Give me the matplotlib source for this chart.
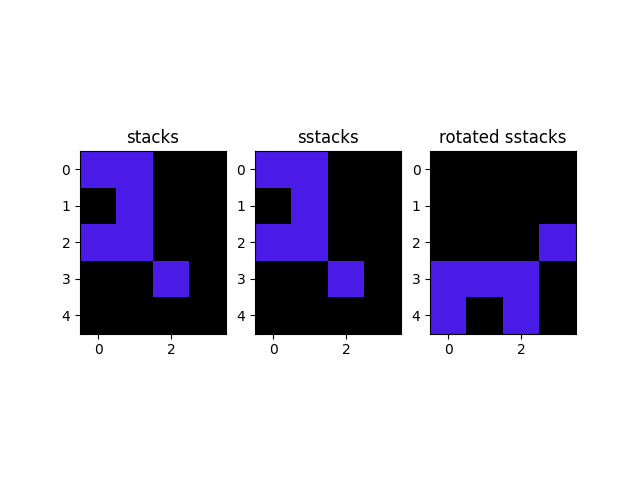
import numpy as np
import matplotlib

matplotlib.use("Agg")
import matplotlib.pyplot as plt
from matplotlib.colors import ListedColormap

# grid cells (1 = filled)
stacks = [
    [1, 1, 0, 0],
    [0, 1, 0, 0],
    [1, 1, 0, 0],
    [0, 0, 1, 0],
    [0, 0, 0, 0],
]
sstacks = [
    [1, 1, 0, 0],
    [0, 1, 0, 0],
    [1, 1, 0, 0],
    [0, 0, 1, 0],
    [0, 0, 0, 0],
]
rotated_sstacks = [
    [0, 0, 0, 0],
    [0, 0, 0, 0],
    [0, 0, 0, 1],
    [1, 1, 1, 0],
    [1, 0, 1, 0],
]
titles = ["stacks", "sstacks", "rotated sstacks"]

cmap = ListedColormap(["black", "#4a1ae6"])

fig, axes = plt.subplots(1, 3, figsize=(6.4, 4.8))
for ax, grid, title in zip(axes, [stacks, sstacks, rotated_sstacks], titles):
    ax.imshow(np.array(grid), cmap=cmap, vmin=0, vmax=1)
    ax.set_title(title)

plt.savefig("out.png", dpi=100)
